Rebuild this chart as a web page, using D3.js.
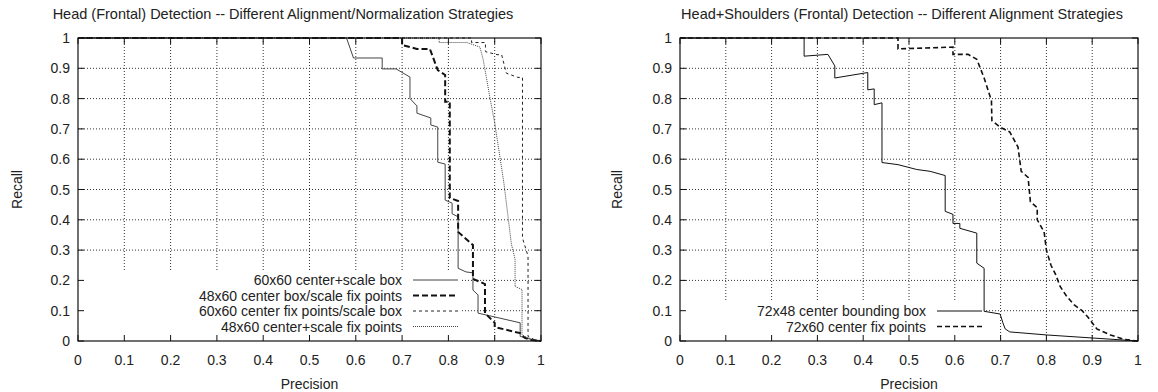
<!DOCTYPE html>
<html>
<head>
    <title>Head detection precision/recall</title>
    <script src="https://d3js.org/d3.v7.min.js"></script>
    <style>
        body { margin: 0; background: #fff; }
        svg text { font-family: "Liberation Sans", Arial, sans-serif; fill: #222; }
    </style>
</head>
<body>
<svg id="chart" width="1158" height="392"></svg>
<script>
    // tick values shared by both panels
    var tickValues = [0, 0.1, 0.2, 0.3, 0.4, 0.5, 0.6, 0.7, 0.8, 0.9, 1];

    // left panel: [precision, recall]
    var headBoxScale = [[0, 1], [0.58, 1], [0.595, 0.934], [0.657, 0.934], [0.657, 0.898], [0.687, 0.898],
        [0.717, 0.871], [0.717, 0.80], [0.732, 0.776], [0.732, 0.752], [0.762, 0.736], [0.762, 0.713],
        [0.777, 0.706], [0.777, 0.59], [0.793, 0.584], [0.793, 0.465], [0.808, 0.455], [0.808, 0.42],
        [0.821, 0.41], [0.821, 0.24], [0.838, 0.228], [0.853, 0.225], [0.853, 0.168], [0.864, 0.152],
        [0.864, 0.092], [0.955, 0.06], [0.955, 0.015], [0.98, 0.005], [1, 0]];
    var headBoxFix = [[0, 1], [0.70, 1], [0.70, 0.977], [0.732, 0.964], [0.76, 0.964], [0.777, 0.894],
        [0.793, 0.878], [0.793, 0.79], [0.803, 0.79], [0.803, 0.472], [0.821, 0.462], [0.821, 0.36],
        [0.853, 0.317], [0.853, 0.205], [0.879, 0.188], [0.879, 0.092], [0.90, 0.06], [0.90, 0.046],
        [0.955, 0.026], [0.965, 0.01], [0.98, 0.003], [1, 0]];
    var headFixBox = [[0, 1], [0.85, 1], [0.85, 0.985], [0.88, 0.985], [0.88, 0.955], [0.905, 0.945],
        [0.915, 0.945], [0.925, 0.884], [0.95, 0.87], [0.96, 0.87], [0.96, 0.34], [0.972, 0.28],
        [0.972, 0.015], [0.985, 0.005], [1, 0]];
    var headFixScale = [[0, 1], [0.78, 1], [0.78, 0.985], [0.84, 0.985], [0.868, 0.97], [0.875, 0.93],
        [0.882, 0.87], [0.89, 0.80], [0.9, 0.72], [0.91, 0.62], [0.92, 0.52], [0.928, 0.42],
        [0.936, 0.32], [0.944, 0.27], [0.944, 0.18], [0.959, 0.17], [0.959, 0.02],
        [0.975, 0.008], [1, 0]];

    // right panel
    var shoulderBox = [[0, 1], [0.271, 1], [0.271, 0.94], [0.323, 0.946], [0.338, 0.908], [0.338, 0.868],
        [0.41, 0.886], [0.41, 0.829], [0.424, 0.832], [0.424, 0.78], [0.441, 0.786], [0.441, 0.589],
        [0.476, 0.582], [0.517, 0.566], [0.546, 0.56], [0.579, 0.546], [0.579, 0.428], [0.596, 0.418],
        [0.596, 0.388], [0.611, 0.388], [0.611, 0.372], [0.648, 0.356], [0.648, 0.257], [0.664, 0.24],
        [0.664, 0.098], [0.699, 0.089], [0.705, 0.06], [0.71, 0.04], [0.72, 0.03], [0.8, 0.02],
        [0.9, 0.01], [1, 0]];
    var shoulderFix = [[0, 1], [0.476, 1], [0.476, 0.964], [0.596, 0.97], [0.596, 0.946], [0.629, 0.946],
        [0.648, 0.93], [0.664, 0.868], [0.68, 0.793], [0.681, 0.727], [0.699, 0.706], [0.72, 0.69],
        [0.738, 0.64], [0.745, 0.56], [0.76, 0.54], [0.765, 0.46], [0.78, 0.44], [0.78, 0.40],
        [0.795, 0.36], [0.8, 0.30], [0.81, 0.25], [0.82, 0.22], [0.83, 0.18], [0.843, 0.15],
        [0.86, 0.12], [0.878, 0.10], [0.89, 0.08], [0.90, 0.06], [0.91, 0.04], [0.94, 0.02],
        [0.97, 0.005], [1, 0]];

    var panels = [
        {
            title: 'Head (Frontal) Detection -- Different Alignment/Normalization Strategies',
            titleX: 283, left: 78, right: 541, ylabX: 17,
            key: {right: 462, top: 270, textX: 402, sampleX: 413, y: 280},
            series: [
                {name: '60x60 center+scale box', data: headBoxScale, dash: null, width: 1, color: '#444'},
                {name: '48x60 center box/scale fix points', data: headBoxFix, dash: '6,3', width: 2, color: '#111'},
                {name: '60x60 center fix points/scale box', data: headFixBox, dash: '3,3', width: 1, color: '#222'},
                {name: '48x60 center+scale fix points', data: headFixScale, dash: '1,1', width: 1, color: '#444'}
            ]
        },
        {
            title: 'Head+Shoulders (Frontal) Detection -- Different Alignment Strategies',
            titleX: 902, left: 680, right: 1138, ylabX: 617,
            key: {right: 985, top: 301, textX: 926, sampleX: 937, y: 311},
            series: [
                {name: '72x48 center bounding box', data: shoulderBox, dash: null, width: 1, color: '#111'},
                {name: '72x60 center fix points', data: shoulderFix, dash: '5,3', width: 1.6, color: '#111'}
            ]
        }
    ];

    var svg = d3.select('#chart');
    var plotTop = 38, plotBottom = 341;
    var fs = 14;

    panels.forEach(function(p) {
        var x = d3.scaleLinear().domain([0, 1]).range([p.left, p.right]);
        var y = d3.scaleLinear().domain([0, 1]).range([plotBottom, plotTop]);
        var g = svg.append('g');

        // grid
        g.selectAll('.gx').data(tickValues.slice(1, -1)).enter().append('line')
            .attr('x1', function(d) { return x(d); }).attr('x2', function(d) { return x(d); })
            .attr('y1', plotTop).attr('y2', plotBottom)
            .attr('stroke', '#333').attr('stroke-width', 1).attr('stroke-dasharray', '1,2');
        g.selectAll('.gy').data(tickValues.slice(1, -1)).enter().append('line')
            .attr('x1', p.left).attr('x2', p.right)
            .attr('y1', function(d) { return y(d); }).attr('y2', function(d) { return y(d); })
            .attr('stroke', '#333').attr('stroke-width', 1).attr('stroke-dasharray', '1,2');

        // key background hides the grid
        g.append('rect').attr('x', p.left).attr('y', p.key.top)
            .attr('width', p.key.right - p.left).attr('height', plotBottom - p.key.top)
            .attr('fill', '#fff');

        // ticks, inward on all four sides
        var tl = 6;
        var tickLine = function(x1, y1, x2, y2) {
            g.append('line').attr('x1', x1).attr('y1', y1).attr('x2', x2).attr('y2', y2)
                .attr('stroke', '#111').attr('stroke-width', 1);
        };
        tickValues.forEach(function(t) {
            tickLine(x(t), plotBottom, x(t), plotBottom - tl);
            tickLine(x(t), plotTop, x(t), plotTop + tl);
            tickLine(p.left, y(t), p.left + tl, y(t));
            tickLine(p.right, y(t), p.right - tl, y(t));
        });

        // curves
        var line = d3.line().x(function(d) { return x(d[0]); }).y(function(d) { return y(d[1]); });
        p.series.forEach(function(s) {
            g.append('path').datum(s.data).attr('d', line)
                .attr('fill', 'none').attr('stroke', s.color).attr('stroke-width', s.width)
                .attr('stroke-dasharray', s.dash);
        });

        // frame
        g.append('rect').attr('x', p.left).attr('y', plotTop)
            .attr('width', p.right - p.left).attr('height', plotBottom - plotTop)
            .attr('fill', 'none').attr('stroke', '#111').attr('stroke-width', 1.2);

        // tick labels
        g.selectAll('.xl').data(tickValues).enter().append('text')
            .attr('x', function(d) { return x(d); }).attr('y', 365)
            .attr('text-anchor', 'middle').attr('font-size', fs)
            .text(function(d) { return d3.format('~g')(d); });
        g.selectAll('.yl').data(tickValues).enter().append('text')
            .attr('x', p.left - 8).attr('y', function(d) { return y(d) + 5; })
            .attr('text-anchor', 'end').attr('font-size', fs)
            .text(function(d) { return d3.format('~g')(d); });

        // titles
        g.append('text').attr('x', p.titleX).attr('y', 19).attr('text-anchor', 'middle')
            .attr('font-size', 14.5).text(p.title);
        g.append('text').attr('x', (p.left + p.right) / 2).attr('y', 389).attr('text-anchor', 'middle')
            .attr('font-size', fs).text('Precision');
        g.append('text').attr('transform', 'translate(' + (p.ylabX + 5) + ',' + ((plotTop + plotBottom) / 2) + ') rotate(-90)')
            .attr('text-anchor', 'middle').attr('font-size', fs).text('Recall');

        // legend
        p.series.forEach(function(s, i) {
            var ly = p.key.y + i * 15.5;
            g.append('text').attr('x', p.key.textX).attr('y', ly + 5).attr('text-anchor', 'end')
                .attr('font-size', fs).text(s.name);
            g.append('line').attr('x1', p.key.sampleX).attr('x2', p.key.sampleX + 45)
                .attr('y1', ly).attr('y2', ly)
                .attr('stroke', s.color).attr('stroke-width', s.width).attr('stroke-dasharray', s.dash);
        });
    });
</script>
</body>
</html>
